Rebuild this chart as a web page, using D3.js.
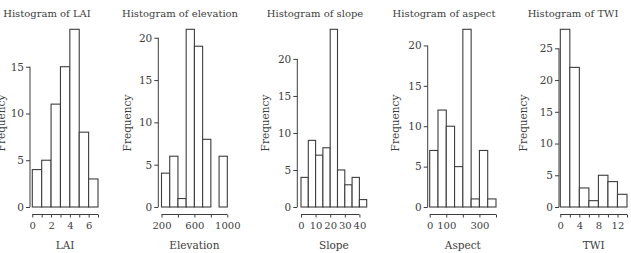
<html>
<head>
<script src="https://d3js.org/d3.v7.min.js"></script>
<style>
  body { margin: 0; background: #fff; }
  text { font-family: "DejaVu Serif", serif; fill: #3d3d3d; }
</style>
</head>
<body></body>
<script>
const width = 631;
const height = 253;

// bin edges and counts for each histogram
const laiBreaks = [0, 1, 2, 3, 4, 5, 6, 7];
const laiCounts = [4, 5, 11, 15, 19, 8, 3];
const elevBreaks = [200, 300, 400, 500, 600, 700, 800, 900, 1000];
const elevCounts = [4, 6, 1, 21, 19, 8, 0, 6];
const slopeBreaks = [0, 5, 10, 15, 20, 25, 30, 35, 40, 45];
const slopeCounts = [4, 9, 7, 8, 24, 5, 3, 4, 1];
const aspectBreaks = [0, 50, 100, 150, 200, 250, 300, 350, 400];
const aspectCounts = [7, 12, 10, 5, 22, 1, 7, 1];
const twiBreaks = [0, 2, 4, 6, 8, 10, 12, 14];
const twiCounts = [28, 22, 3, 1, 5, 4, 2];

// axis ticks (labels that R dropped for overlap are blank)
const laiXTicks = [0, 1, 2, 3, 4, 5, 6, 7];
const laiXLabels = ['0', '', '2', '', '4', '', '6', ''];
const elevXTicks = [200, 400, 600, 800, 1000];
const elevXLabels = ['200', '', '600', '', '1000'];
const slopeXTicks = [0, 10, 20, 30, 40];
const slopeXLabels = ['0', '10', '20', '30', '40'];
const aspectXTicks = [0, 100, 200, 300, 400];
const aspectXLabels = ['0', '100', '', '300', ''];
const twiXTicks = [0, 2, 4, 6, 8, 10, 12, 14];
const twiXLabels = ['0', '', '4', '', '8', '', '12', ''];

const laiYTicks = [0, 5, 10, 15];
const elevYTicks = [0, 5, 10, 15, 20];
const slopeYTicks = [0, 5, 10, 15, 20];
const aspectYTicks = [0, 5, 10, 15, 20];
const twiYTicks = [0, 5, 10, 15, 20, 25];

const panels = [
  {title: 'Histogram of LAI', xlab: 'LAI', breaks: laiBreaks, counts: laiCounts,
   xt: laiXTicks, xl: laiXLabels, yt: laiYTicks, ymax: 19,
   x0: 32.3, x1: 98, yAxisX: 30, titleX: 47, ylabX: 1},
  {title: 'Histogram of elevation', xlab: 'Elevation', breaks: elevBreaks, counts: elevCounts,
   xt: elevXTicks, xl: elevXLabels, yt: elevYTicks, ymax: 21,
   x0: 161.5, x1: 227.3, yAxisX: 158.3, titleX: 180, ylabX: 127},
  {title: 'Histogram of slope', xlab: 'Slope', breaks: slopeBreaks, counts: slopeCounts,
   xt: slopeXTicks, xl: slopeXLabels, yt: slopeYTicks, ymax: 24,
   x0: 301, x1: 366.7, yAxisX: 297.3, titleX: 315, ylabX: 265},
  {title: 'Histogram of aspect', xlab: 'Aspect', breaks: aspectBreaks, counts: aspectCounts,
   xt: aspectXTicks, xl: aspectXLabels, yt: aspectYTicks, ymax: 22,
   x0: 429.7, x1: 496, yAxisX: 427.7, titleX: 444, ylabX: 395},
  {title: 'Histogram of TWI', xlab: 'TWI', breaks: twiBreaks, counts: twiCounts,
   xt: twiXTicks, xl: twiXLabels, yt: twiYTicks, ymax: 28,
   x0: 560.3, x1: 627, yAxisX: 559, titleX: 573, ylabX: 523}
];

const yBase = 207;   // zero line
const yTop = 29.3;   // top of tallest bar
const xAxisY = 214.5;
const ink = '#3d3d3d';

const svg = d3.select('body').append('svg')
    .attr('width', width)
    .attr('height', height);

panels.forEach(p => {
  const x = d3.scaleLinear()
      .domain([p.breaks[0], p.breaks[p.breaks.length - 1]])
      .range([p.x0, p.x1]);
  const y = d3.scaleLinear()
      .domain([0, p.ymax])
      .range([yBase, yTop]);

  const g = svg.append('g');

  const bins = p.counts.map((c, i) => ({lo: p.breaks[i], hi: p.breaks[i + 1], c: c}));
  g.selectAll('rect')
    .data(bins)
    .enter()
    .append('rect')
      .attr('x', d => x(d.lo))
      .attr('y', d => y(d.c))
      .attr('width', d => x(d.hi) - x(d.lo))
      .attr('height', d => y(0) - y(d.c))
      .attr('fill', 'white')
      .attr('stroke', ink)
      .attr('stroke-width', 1.1);

  // y axis
  const yAxis = d3.axisLeft(y)
      .tickValues(p.yt)
      .tickSize(4)
      .tickPadding(2)
      .tickSizeOuter(0);
  const ga = g.append('g')
      .attr('transform', `translate(${p.yAxisX},0)`)
      .call(yAxis);
  ga.select('.domain').remove();
  ga.append('line')
      .attr('x1', 0).attr('x2', 0)
      .attr('y1', y(p.yt[0])).attr('y2', y(p.yt[p.yt.length - 1]))
      .attr('stroke', ink);
  ga.selectAll('.tick text').style('font-size', '10.5px');

  // x axis
  const xAxis = d3.axisBottom(x)
      .tickValues(p.xt)
      .tickFormat((d, i) => p.xl[i])
      .tickSize(3)
      .tickPadding(4)
      .tickSizeOuter(0);
  const gx = g.append('g')
      .attr('transform', `translate(0,${xAxisY})`)
      .call(xAxis);
  gx.select('.domain').remove();
  gx.append('line')
      .attr('x1', x(p.xt[0])).attr('x2', x(p.xt[p.xt.length - 1]))
      .attr('y1', 0).attr('y2', 0)
      .attr('stroke', ink);
  gx.selectAll('.tick text').style('font-size', '10px');

  g.selectAll('.tick line').attr('stroke', ink);
  g.selectAll('.tick text')
      .attr('fill', ink)
      .style('font-family', '"DejaVu Serif", serif');

  g.append('text')
      .attr('x', p.titleX)
      .attr('y', 17)
      .attr('text-anchor', 'middle')
      .style('font-size', '10px')
      .text(p.title);

  g.append('text')
      .attr('x', (p.x0 + p.x1) / 2)
      .attr('y', 249)
      .attr('text-anchor', 'middle')
      .style('font-size', '10.5px')
      .text(p.xlab);

  g.append('text')
      .attr('transform', `translate(${p.ylabX + 4},123) rotate(-90)`)
      .attr('text-anchor', 'middle')
      .style('font-size', '10.5px')
      .text('Frequency');
});
</script>
</html>
